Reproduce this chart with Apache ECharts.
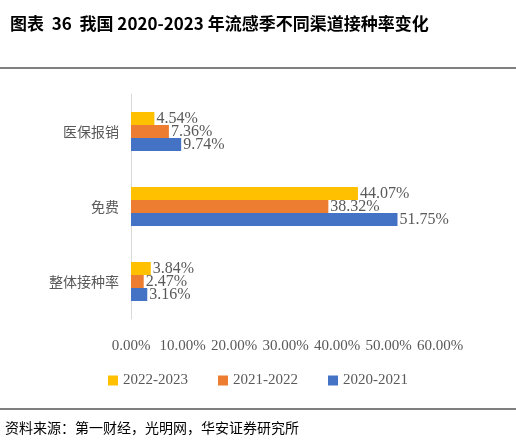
<!DOCTYPE html>
<html>
<head>
<meta charset="utf-8">
<script src="https://cdn.jsdelivr.net/npm/echarts@6/dist/echarts.min.js"></script>
<style>
  html, body { margin: 0; padding: 0; background: #fff; }
  #main { width: 516px; height: 443px; }
</style>
</head>
<body>
<div id="main"></div>
<script>
  // categories bottom-to-top (y axis starts at bottom)
  var categories = ['整体接种率', '免费', '医保报销'];
  var s2223 = [3.84, 44.07, 4.54];
  var s2122 = [2.47, 38.32, 7.36];
  var s2021 = [3.16, 51.75, 9.74];
  var seriesNames = ['2022-2023', '2021-2022', '2020-2021'];
  var colors = ['#FFC000', '#ED7D31', '#4472C4'];

  var chart = echarts.init(document.getElementById('main'));
  var labelStyle = {
    show: true,
    position: 'right',
    distance: 2,
    color: '#595959',
    fontFamily: 'Liberation Serif',
    fontSize: 16,
    formatter: function (p) { return p.value.toFixed(2) + '%'; }
  };
  function bar(name, data, color) {
    return {
      name: name, type: 'bar', data: data, barWidth: 13, barGap: '0%',
      itemStyle: { color: color }, label: labelStyle
    };
  }
  chart.setOption({
    animation: false,
    title: {
      text: '图表  36  我国 2020-2023 年流感季不同渠道接种率变化',
      left: 5, top: 10,
      textStyle: { fontFamily: 'Noto Sans CJK SC', fontWeight: 'bold', fontSize: 17, color: '#000' }
    },
    grid: { left: 131, right: 76, top: 94, bottom: 124 },
    xAxis: {
      type: 'value', min: 0, max: 60, interval: 10,
      axisLabel: {
        formatter: function (v) { return v.toFixed(2) + '%'; },
        color: '#595959', fontFamily: 'Liberation Serif', fontSize: 15, margin: 20
      },
      splitLine: { show: false }, axisLine: { show: false }, axisTick: { show: false }
    },
    yAxis: {
      type: 'category', data: categories,
      axisLabel: { color: '#595959', fontFamily: 'Noto Sans CJK SC', fontSize: 14, margin: 12 },
      axisLine: { lineStyle: { color: '#d9d9d9' } }, axisTick: { show: false }
    },
    legend: {
      data: seriesNames, bottom: 50, left: 'center', itemWidth: 10, itemHeight: 10, itemGap: 30,
      icon: 'rect',
      textStyle: { color: '#595959', fontFamily: 'Liberation Serif', fontSize: 15 }
    },
    series: [
      bar(seriesNames[0], s2223, colors[0]),
      bar(seriesNames[1], s2122, colors[1]),
      bar(seriesNames[2], s2021, colors[2])
    ],
    graphic: [
      { type: 'line', shape: { x1: 0, y1: 68, x2: 516, y2: 68 }, style: { stroke: '#000', lineWidth: 1 } },
      { type: 'line', shape: { x1: 0, y1: 409, x2: 516, y2: 409 }, style: { stroke: '#000', lineWidth: 1 } },
      { type: 'text', left: 5, top: 421,
        style: { text: '资料来源：第一财经，光明网，华安证券研究所', fill: '#000', font: '14px "Noto Sans CJK SC"' } }
    ]
  });
</script>
</body>
</html>
